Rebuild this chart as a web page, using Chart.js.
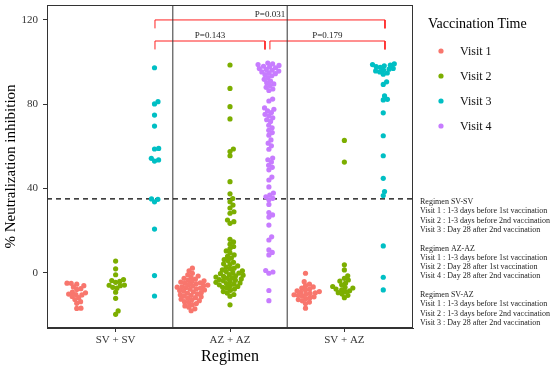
<!DOCTYPE html>
<html>
<head>
<meta charset="utf-8">
<script src="https://cdn.jsdelivr.net/npm/chart.js@4.4.1/dist/chart.umd.min.js"></script>
<style>
  html, body { margin: 0; padding: 0; background: #fff; }
  #wrap { width: 550px; height: 372px; }
</style>
</head>
<body>
<div id="wrap"><canvas id="chart" width="550" height="372"></canvas></div>
<script>
// =====================
// Datos
// =====================
const regimens = ['SV + SV', 'AZ + AZ', 'SV + AZ'];
const visitLabels = ['Visit 1', 'Visit 2', 'Visit 3', 'Visit 4'];
const visitColors = ['#F8766D', '#7CAE00', '#00BFC4', '#C77CFF'];
// visitas presentes en cada régimen (índices de visitLabels)
const groupVisits = [[0, 1, 2], [0, 1, 3], [0, 1, 2]];

const yTicks = [0, 40, 80, 120];
const cutoff = 35;
const separators = [1.5, 2.5];

const svsvV1 = [-5.0, -5.1, -5.5, -6.2, -6.8, -7.6, -8.0, -9.3, -9.6, -10.2, -10.4, -10.6, -11.3, -11.9, -12.8, -13.8, -14.6, -16.9, -17.0];
const svsvV2 = [5.5, 1.8, -1.0, -3.3, -3.8, -4.2, -4.6, -5.9, -6.0, -6.2, -7.4, -7.0, -9.3, -12.2, -18.2, -19.8];
const svsvV3 = [97.3, 81.2, 80.1, 74.8, 69.6, 59.0, 58.7, 54.3, 53.5, 53.0, 35.0, 34.8, 33.6, 20.7, -1.4, -11.1];

const azazV1 = [2.1, 0.9, -0.3, -1.0, -1.6, -2.2, -2.7, -3.1, -3.5, -3.9, -4.2, -4.5, -4.8,
  -5.0, -5.3, -5.6, -5.9, -6.1, -6.4, -6.7, -6.9, -7.1, -7.4, -7.7, -7.9,
  -8.2, -8.5, -8.8, -9.1, -9.5, -9.8, -10.1, -10.5, -10.8, -11.2, -11.5, -11.9,
  -12.2, -12.6, -12.9, -13.3, -13.8, -14.2, -14.7, -15.2, -15.8, -16.4, -17.2, -18.1];
const azazV2 = [98.6, 87.5, 78.8, 73.0, 58.7, 57.5, 55.5, 43.2, 37.4, 35.2, 33.7, 32.1, 30.7, 28.9, 28.2, 25.0, 24.2, 23.4,
  15.8, 14.6, 13.5, 12.4, 11.4, 10.3, 9.4, 8.4, 7.7, 6.9, 6.2, 5.6, 4.9, 4.2,
  3.8, 3.2, 2.6, 2.1, 1.8, 1.3, 0.9, 0.5, 0.1, -0.2, -0.5, -0.9, -1.2, -1.5, -1.8,
  -2.1, -2.4, -2.7, -3.0, -3.3, -3.6, -3.9, -4.2, -4.6, -4.9, -5.2, -5.5, -5.8,
  -6.2, -6.6, -7.0, -7.4, -7.8, -8.4, -9.0, -9.7, -10.4, -11.2, -15.3];
const azazV4 = [99.5, 99.1, 98.8, 98.4, 98.0, 97.7, 97.3, 96.9, 96.5, 96.1, 95.7,
  95.3, 94.9, 94.5, 94.0, 93.5,
  92.6, 91.8, 91.0, 90.2, 89.6, 88.9, 88.0, 87.2, 86.5, 82.4, 81.5,
  78.2, 77.6, 76.8, 76.0, 75.2, 74.4, 73.5, 72.6, 71.8, 70.0, 68.8, 67.6, 66.5, 65.3,
  63.0, 61.5, 60.2, 58.6, 54.4, 53.6, 52.5, 51.0, 50.0, 48.8, 45.4, 44.0, 40.7,
  37.8, 36.8, 36.0, 35.3, 34.6, 32.4, 28.5, 27.4, 26.4, 22.6, 17.0, 15.5,
  10.8, 9.6, 8.4, 1.0, 0.3, -0.3, -8.5, -13.3];

const svazV1 = [-0.3, -4.3, -5.5, -6.2, -6.8, -7.3, -7.8, -8.2, -8.6, -9.0, -9.3, -9.6, -9.9, -10.2, -10.5, -10.8, -11.2, -11.5, -11.9, -12.3, -12.8, -13.4, -14.0, -14.7, -16.9];
const svazV2 = [62.8, 52.5, 3.7, 1.3, -1.5, -2.7, -3.5, -4.0, -5.0, -5.8, -6.6, -7.0, -7.3, -7.8, -8.2, -8.6, -9.0, -9.5, -10.2, -10.8, -11.9];
const svazV3 = [99.2, 98.8, 98.5, 98.2, 97.8, 97.5, 97.0, 96.6, 96.2, 95.8, 95.3, 94.8, 94.2, 90.6, 89.4, 83.9, 82.3, 82.0, 75.9, 65.0, 55.5, 44.8, 38.5, 36.6, 12.7, -2.2, -8.2];

const groupValues = [
  [svsvV1, svsvV2, svsvV3],
  [azazV1, azazV2, azazV4],
  [svazV1, svazV2, svazV3]
];

// comparaciones (P-valores)
const bracketFrom = [1.344, 1.344, 2.349];
const bracketTo = [3.355, 2.306, 3.355];
const bracketLevel = [120, 110, 110];
const bracketLabels = ['P=0.031', 'P=0.143', 'P=0.179'];

const notes = [
  'Regimen SV-SV',
  'Visit 1 : 1-3 days before 1st vaccination',
  'Visit 2 : 1-3 days before 2nd vaccination',
  'Visit 3 : Day 28 after 2nd vaccination',
  '',
  'Regimen AZ-AZ',
  'Visit 1 : 1-3 days before 1st vaccination',
  'Visit 2 : Day 28 after 1st vaccination',
  'Visit 4 : Day 28 after 2nd vaccination',
  '',
  'Regimen SV-AZ',
  'Visit 1 : 1-3 days before 1st vaccination',
  'Visit 2 : 1-3 days before 2nd vaccination',
  'Visit 3 : Day 28 after 2nd vaccination'
];

// =====================
// Construcción de datasets
// =====================
const SERIF = "'Liberation Serif', 'Times New Roman', serif";
const Y_MIN = -26.3, Y_MAX = 127.1;
const X_MIN = 0.4, X_MAX = 3.6;
const DODGE = 0.34;
const DOT_R = 2.6;
const SWARM_D = 4.2; // distancia mínima entre centros (px)

const pointSets = visitLabels.map((label, v) => ({
  type: 'scatter',
  label: label,
  data: [],
  backgroundColor: visitColors[v],
  borderWidth: 0,
  pointRadius: DOT_R,
  order: 1
}));

const clusters = [];
groupValues.forEach((vals, g) => {
  vals.forEach((arr, k) => {
    const v = groupVisits[g][k];
    const base = g + 1 + (k - 1) * DODGE;
    const pts = arr.map((y) => ({ x: base, y: y }));
    pointSets[v].data.push(...pts);
    clusters.push({ base, pts });
  });
});

const lineSets = [];
lineSets.push({
  type: 'line', label: '_cutoff',
  data: [{ x: X_MIN, y: cutoff }, { x: X_MAX, y: cutoff }],
  borderColor: '#000', borderWidth: 1.3, borderDash: [5, 4],
  pointRadius: 0, order: 5
});
separators.forEach((s) => {
  lineSets.push({
    type: 'line', label: '_sep',
    data: [{ x: s, y: Y_MIN }, { x: s, y: Y_MAX }],
    borderColor: '#333', borderWidth: 1, pointRadius: 0, order: 5
  });
});
bracketLabels.forEach((lab, i) => {
  const drop = 4;
  lineSets.push({
    type: 'line', label: '_bracket',
    data: [
      { x: bracketFrom[i], y: bracketLevel[i] - drop },
      { x: bracketFrom[i], y: bracketLevel[i] },
      { x: bracketTo[i], y: bracketLevel[i] },
      { x: bracketTo[i], y: bracketLevel[i] - drop }
    ],
    borderColor: '#FF2020', borderWidth: 1, pointRadius: 0, order: 5
  });
});

// =====================
// Plugin: marco, etiquetas P, leyenda y notas
// =====================
const extras = {
  id: 'extras',
  afterDraw(chart) {
    const { ctx, chartArea: a, scales } = chart;
    ctx.save();
    ctx.strokeStyle = '#333';
    ctx.lineWidth = 1;
    ctx.strokeRect(a.left + 0.5, a.top + 0.5, a.right - a.left - 1, a.bottom - a.top - 1);

    // P-valores
    ctx.fillStyle = '#222';
    ctx.font = '9px ' + SERIF;
    ctx.textAlign = 'center';
    ctx.textBaseline = 'alphabetic';
    bracketLabels.forEach((lab, i) => {
      const xm = scales.x.getPixelForValue((bracketFrom[i] + bracketTo[i]) / 2);
      const yp = scales.y.getPixelForValue(bracketLevel[i]) - 3;
      ctx.fillText(lab, xm, yp);
    });

    // leyenda
    ctx.textAlign = 'left';
    ctx.textBaseline = 'middle';
    ctx.fillStyle = '#000';
    ctx.font = '14px ' + SERIF;
    ctx.fillText('Vaccination Time', 428, 24);
    ctx.font = '12px ' + SERIF;
    chart.data.datasets.filter((d) => d.type === 'scatter').forEach((d, i) => {
      const y = 51 + i * 25;
      ctx.beginPath();
      ctx.fillStyle = d.backgroundColor;
      ctx.arc(441, y, DOT_R, 0, Math.PI * 2);
      ctx.fill();
      ctx.fillStyle = '#111';
      ctx.fillText(d.label, 460, y + 1);
    });

    // notas
    ctx.font = '8px ' + SERIF;
    ctx.fillStyle = '#222';
    notes.forEach((t, i) => {
      if (t) ctx.fillText(t, 420, 202 + i * 9.3);
    });
    ctx.restore();
  }
};

function noPadding(s) {
  s.paddingTop = 0; s.paddingBottom = 0; s.paddingLeft = 0; s.paddingRight = 0;
}

const chart = new Chart(document.getElementById('chart'), {
  data: { datasets: [...pointSets, ...lineSets] },
  options: {
    responsive: false,
    animation: false,
    layout: { padding: { left: 0, right: 137, top: 5, bottom: 0 } },
    plugins: { legend: { display: false }, tooltip: { enabled: false } },
    scales: {
      x: {
        type: 'linear', min: X_MIN, max: X_MAX,
        afterBuildTicks: (s) => { s.ticks = regimens.map((r, i) => ({ value: i + 1 })); },
        afterFit: (s) => { s.height = 44; noPadding(s); },
        ticks: {
          color: '#333', padding: 2,
          font: { family: SERIF, size: 11 },
          callback: (v) => regimens[Math.round(v) - 1] || ''
        },
        grid: { drawOnChartArea: false, drawTicks: true, tickLength: 4, color: '#333' },
        border: { display: true, color: '#333' },
        title: { display: true, text: 'Regimen', color: '#000', font: { family: SERIF, size: 16 }, padding: { top: 0, bottom: 6 } }
      },
      y: {
        type: 'linear', min: Y_MIN, max: Y_MAX,
        afterBuildTicks: (s) => { s.ticks = yTicks.map((v) => ({ value: v })); },
        afterFit: (s) => { s.width = 47; noPadding(s); },
        ticks: { color: '#333', padding: 5, font: { family: SERIF, size: 11 } },
        grid: { drawOnChartArea: false, drawTicks: true, tickLength: 4, color: '#333' },
        border: { display: true, color: '#333' },
        title: { display: true, text: '% Neutralization inhibition', color: '#000', font: { family: SERIF, size: 15 }, padding: { top: 2, bottom: 0 } }
      }
    }
  },
  plugins: [extras]
});

// =====================
// Beeswarm: desplazamiento horizontal sin solapes (en píxeles de las escalas)
// =====================
(function swarmLayout() {
  const sx = chart.scales.x, sy = chart.scales.y;
  const pxPerX = Math.abs(sx.getPixelForValue(1) - sx.getPixelForValue(0));
  const d = SWARM_D;
  clusters.forEach((c) => {
    const order = c.pts.map((p, i) => i).sort((i, j) => c.pts[i].y - c.pts[j].y);
    const placed = [];
    order.forEach((i) => {
      const py = sy.getPixelForValue(c.pts[i].y);
      const cands = [0];
      placed.forEach((q) => {
        const dy = Math.abs(q.y - py);
        if (dy < d) {
          const dx = Math.sqrt(d * d - dy * dy);
          cands.push(q.x + dx, q.x - dx);
        }
      });
      cands.sort((u, w) => Math.abs(u) - Math.abs(w));
      let best = 0;
      for (const cx of cands) {
        const ok = placed.every((q) => (q.x - cx) ** 2 + (q.y - py) ** 2 >= d * d - 0.01);
        if (ok) { best = cx; break; }
      }
      placed.push({ x: best, y: py });
      c.pts[i].x = c.base + best / pxPerX;
    });
  });
  chart.update('none');
})();
</script>
</body>
</html>
